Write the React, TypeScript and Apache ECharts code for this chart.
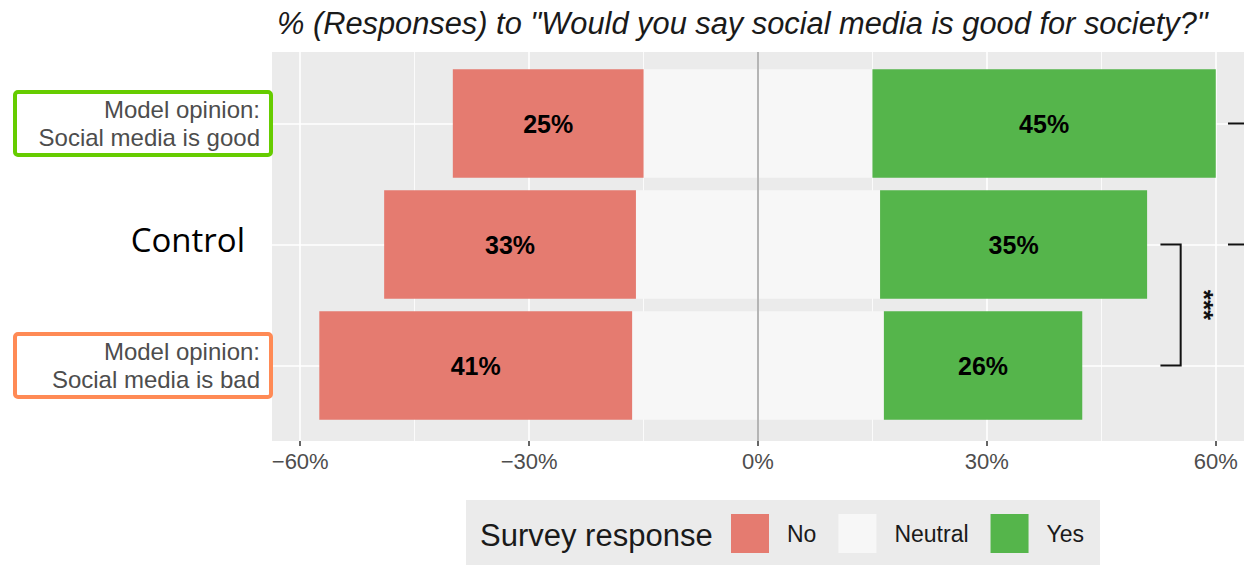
import React, { useEffect, useRef } from "react";
import * as echarts from "echarts";

// ---- data ----
const categories = [
  "Model opinion:\nSocial media is good",
  "Control",
  "Model opinion:\nSocial media is bad",
];
const noPct = [25, 33, 41];
const neutralPct = [30, 32, 33];
const yesPct = [45, 35, 26];
const legendItems = ["No", "Neutral", "Yes"];
const xMin = -60;
const xMax = 60;
const xInterval = 30;
const titleText = '% (Responses) to "Would you say social media is good for society?"';
const legendTitle = "Survey response";
// significance brackets (category indices, data-x of arms, label)
const brackets = [
  { from: 1, to: 2, armStart: 52.75, armEnd: 55.4, label: "***", labelAt: 58.4 },
  { from: 0, to: 1, armStart: 61.6, armEnd: 67, label: "", labelAt: 70 },
];

// ---- styles / layout ----
const COLORS: Record<string, string> = { No: "#E57B70", Neutral: "#F7F7F7", Yes: "#55B54B" };
const W = 1244;
const H = 565;
const PLOT_LEFT = 272;
const PLOT_RIGHT = 1244;
const PLOT_TOP = 52;
const PLOT_BOTTOM = 441;
const CAT_TOP = 123.5;
const CAT_BOTTOM = 365.5;
const X_LIM = 63.7;
const pxPerUnit = (PLOT_RIGHT - PLOT_LEFT) / (2 * X_LIM);
const FONT = "Liberation Sans, Arial, Helvetica, sans-serif";

export default function App() {
  const ref = useRef<HTMLDivElement>(null);
  useEffect(() => {
    if (!ref.current) return;
    const chart = echarts.init(ref.current, null, { renderer: "svg" });

    const labelStyle = {
      show: true,
      position: "inside",
      formatter: (p: any) => Math.abs(p.value) + "%",
      fontSize: 25,
      fontWeight: "bold",
      color: "#000",
      fontFamily: FONT,
    };

    const gridCLeft = PLOT_LEFT + (X_LIM - xMax) * pxPerUnit;
    const gridCRight = W - PLOT_RIGHT + (X_LIM - xMax) * pxPerUnit;

    const option: any = {
      animation: false,
      title: {
        text: titleText,
        left: 272,
        top: 3,
        textStyle: {
          fontSize: 30.8,
          fontStyle: "italic",
          fontWeight: "normal",
          color: "#1a1a1a",
          fontFamily: FONT,
        },
      },
      legend: {
        data: legendItems,
        left: 731,
        top: 514,
        padding: 0,
        itemWidth: 38,
        itemHeight: 39,
        itemGap: 22,
        icon: "rect",
        selectedMode: false,
        textStyle: { fontSize: 23, color: "#1a1a1a", fontFamily: FONT, padding: [0, 0, 0, 13] },
      },
      grid: [
        {
          left: PLOT_LEFT,
          right: W - PLOT_RIGHT,
          top: PLOT_TOP,
          bottom: H - PLOT_BOTTOM,
          show: true,
          backgroundColor: "#EBEBEB",
          borderWidth: 0,
        },
        {
          left: PLOT_LEFT,
          right: W - PLOT_RIGHT,
          top: CAT_TOP,
          bottom: H - CAT_BOTTOM,
        },
        {
          left: gridCLeft,
          right: gridCRight,
          top: PLOT_TOP,
          bottom: H - PLOT_BOTTOM,
        },
      ],
      xAxis: [
        { gridIndex: 0, type: "value", min: -X_LIM, max: X_LIM, show: false },
        { gridIndex: 1, type: "value", min: -X_LIM, max: X_LIM, show: false },
        {
          gridIndex: 2,
          type: "value",
          min: xMin,
          max: xMax,
          interval: xInterval,
          z: 1,
          axisLine: { show: false },
          axisTick: { show: true, length: 5, lineStyle: { color: "#333", width: 1.5 } },
          axisLabel: {
            fontSize: 22,
            color: "#4D4D4D",
            fontFamily: FONT,
            margin: 9,
            formatter: (v: number) => (v < 0 ? "\u2212" + Math.abs(v) : String(v)) + "%",
          },
          splitLine: { show: true, lineStyle: { color: "#FFFFFF", width: 1.6 } },
          minorTick: { show: false, splitNumber: 2 },
          minorSplitLine: { show: true, lineStyle: { color: "#FFFFFF", width: 0.8 } },
        },
      ],
      yAxis: [
        { gridIndex: 0, type: "value", show: false },
        {
          gridIndex: 1,
          type: "category",
          data: categories,
          inverse: true,
          boundaryGap: false,
          z: 1,
          axisLine: { show: false },
          axisTick: { show: true, length: 5, lineStyle: { color: "#333", width: 1.5 } },
          splitLine: { show: true, lineStyle: { color: "#FFFFFF", width: 1.6 } },
          axisLabel: {
            margin: 12,
            formatter: (v: string) =>
              v === "Control"
                ? "{ctrl|" + v + "}"
                : v
                    .split("\n")
                    .map((l) => "{m|" + l + "}")
                    .join("\n"),
            rich: {
              m: { fontSize: 24, lineHeight: 28, color: "#4D4D4D", fontFamily: FONT },
              ctrl: {
                fontSize: 33,
                color: "#000",
                fontFamily: "Open Sans, Noto Sans, sans-serif",
                padding: [0, 15, 10, 0],
              },
            },
          },
        },
        { gridIndex: 2, type: "value", show: false },
      ],
      series: [
        {
          name: "Neutral",
          type: "bar",
          xAxisIndex: 1,
          yAxisIndex: 1,
          stack: "total",
          barWidth: 108.5,
          clip: false,
          itemStyle: { color: COLORS.Neutral },
          data: neutralPct.map((v) => -v / 2),
        },
        {
          name: "No",
          type: "bar",
          xAxisIndex: 1,
          yAxisIndex: 1,
          stack: "total",
          barWidth: 108.5,
          clip: false,
          itemStyle: { color: COLORS.No },
          label: labelStyle,
          data: noPct.map((v) => -v),
        },
        {
          name: "Neutral",
          type: "bar",
          xAxisIndex: 1,
          yAxisIndex: 1,
          stack: "total",
          barWidth: 108.5,
          clip: false,
          itemStyle: { color: COLORS.Neutral },
          data: neutralPct.map((v) => v / 2),
        },
        {
          name: "Yes",
          type: "bar",
          xAxisIndex: 1,
          yAxisIndex: 1,
          stack: "total",
          barWidth: 108.5,
          clip: false,
          itemStyle: { color: COLORS.Yes },
          label: labelStyle,
          data: yesPct,
        },
      ],
    };
    chart.setOption(option);

    // annotations computed through the chart's own scales
    const x0 = chart.convertToPixel({ xAxisIndex: 1 }, 0) as number;
    const xp = (v: number) => chart.convertToPixel({ xAxisIndex: 1 }, v) as number;
    const yp = (i: number) => chart.convertToPixel({ yAxisIndex: 1 }, categories[i]) as number;

    const graphics: any[] = [
      {
        type: "line",
        z: 10,
        silent: true,
        shape: { x1: x0, y1: PLOT_TOP, x2: x0, y2: PLOT_BOTTOM },
        style: { stroke: "#B5B5B5", lineWidth: 2 },
      },
      // label boxes
      {
        type: "rect",
        z: 10,
        silent: true,
        shape: { x: 15, y: yp(0) - 31.5, width: 256, height: 63, r: 3 },
        style: { fill: "none", stroke: "#66CC00", lineWidth: 4 },
      },
      {
        type: "rect",
        z: 10,
        silent: true,
        shape: { x: 15, y: yp(2) - 31.5, width: 256, height: 63, r: 3 },
        style: { fill: "none", stroke: "#FF8A55", lineWidth: 4 },
      },
      // legend box & title
      {
        type: "rect",
        z: -1,
        silent: true,
        shape: { x: 466, y: 500, width: 634, height: 65 },
        style: { fill: "#EBEBEB" },
      },
      {
        type: "text",
        z: 5,
        silent: true,
        x: 480,
        y: 535,
        style: {
          text: legendTitle,
          fontSize: 31,
          fill: "#1a1a1a",
          fontFamily: FONT,
          verticalAlign: "middle",
          align: "left",
        },
      },
    ];
    brackets.forEach((b) => {
      const ya = yp(b.from);
      const yb = yp(b.to);
      graphics.push({
        type: "polyline",
        z: 10,
        silent: true,
        shape: {
          points: [
            [xp(b.armStart), ya],
            [xp(b.armEnd), ya],
            [xp(b.armEnd), yb],
            [xp(b.armStart), yb],
          ],
        },
        style: { stroke: "#111", lineWidth: 2, fill: "none" },
      });
      if (b.label) {
        graphics.push({
          type: "text",
          z: 10,
          silent: true,
          x: xp(b.labelAt),
          y: (ya + yb) / 2,
          rotation: -Math.PI / 2,
          style: {
            text: b.label,
            fontSize: 26,
            fontWeight: "bold",
            fill: "#111",
            fontFamily: FONT,
            align: "center",
            verticalAlign: "middle",
          },
        });
      }
    });
    chart.setOption({ graphic: graphics });

    return () => chart.dispose();
  }, []);

  return (
    <div
      ref={ref}
      style={{ position: "absolute", left: 0, top: 0, width: W, height: H, background: "#fff" }}
    />
  );
}
